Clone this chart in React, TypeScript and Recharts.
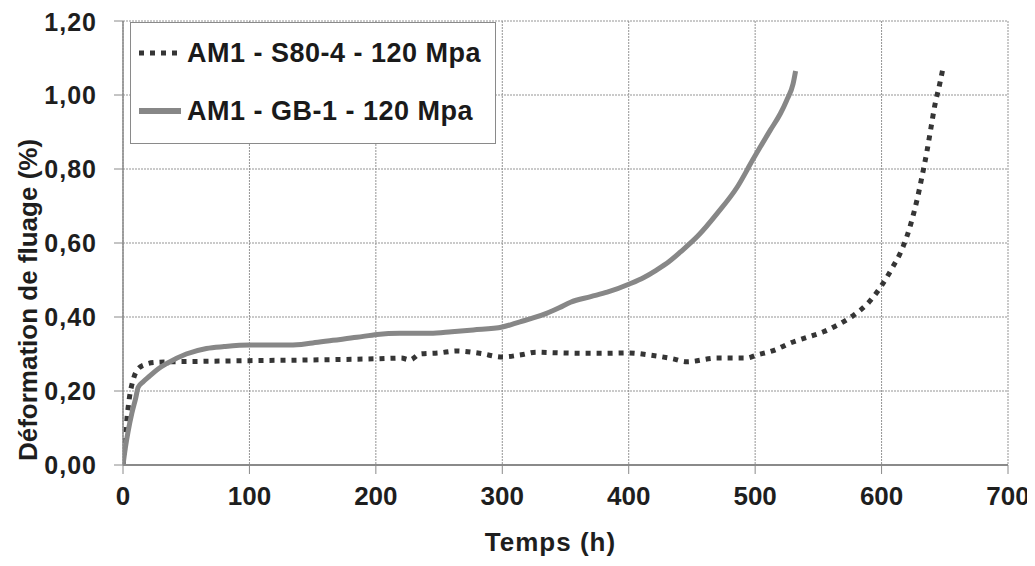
import React from 'react';
import {
  LineChart,
  Line,
  XAxis,
  YAxis,
  CartesianGrid,
  Label
} from 'recharts';

// S80-4 (dotted) — time in hours, creep strain in %
const s80Time = [0, 1.5, 3, 5, 8, 12, 18, 25, 40, 60, 100, 150, 200, 220, 227, 235, 250, 264, 282, 300, 315, 327, 345, 362, 380, 399, 417, 435, 446, 470, 493, 501, 515, 528, 541, 554, 566, 578, 590, 599, 608, 617, 623, 628, 632, 636, 639, 642, 646, 649];
const s80Strain = [0, 0.05, 0.12, 0.18, 0.23, 0.26, 0.272, 0.277, 0.279, 0.28, 0.282, 0.284, 0.287, 0.289, 0.284, 0.3, 0.303, 0.308, 0.302, 0.292, 0.298, 0.305, 0.303, 0.302, 0.302, 0.303, 0.297, 0.287, 0.279, 0.289, 0.289, 0.297, 0.31, 0.33, 0.345, 0.36, 0.38, 0.405, 0.44, 0.48, 0.53, 0.59, 0.65, 0.716, 0.78, 0.85, 0.91, 0.97, 1.03, 1.08];

// GB-1 (solid)
const gbTime = [0, 2, 4, 7, 10, 12, 16, 21, 28, 35, 50, 66, 80, 100, 132, 150, 166, 185, 201, 219, 243, 260, 277, 300, 314, 325, 335, 345, 354, 370, 383, 401, 412, 422, 432, 441, 455, 470, 486, 498, 512, 520, 525, 530, 532];
const gbStrain = [0, 0.05, 0.09, 0.14, 0.18, 0.21, 0.225, 0.24, 0.26, 0.275, 0.3, 0.315, 0.32, 0.324, 0.324, 0.33, 0.337, 0.345, 0.353, 0.356, 0.356, 0.36, 0.365, 0.373, 0.387, 0.398, 0.41, 0.425, 0.44, 0.455, 0.467, 0.49, 0.507, 0.527, 0.55, 0.576, 0.62, 0.68, 0.752, 0.824, 0.905, 0.95, 0.986, 1.03, 1.065];

const xTicks = [0, 100, 200, 300, 400, 500, 600, 700];
const yTicks = [0, 0.2, 0.4, 0.6, 0.8, 1.0, 1.2];

const seriesNames = ['AM1 - S80-4 - 120 Mpa', 'AM1 - GB-1 - 120 Mpa'];

const s80Data = s80Time.map((t, i) => ({ t, v: s80Strain[i] }));
const gbData = gbTime.map((t, i) => ({ t, v: gbStrain[i] }));

const FONT = '"Liberation Sans", Arial, sans-serif';
const DOT_COLOR = '#353535';
const SOLID_COLOR = '#878787';

// legend drawn as an overlay so it doesn't steal room from the plot
const LegendBox = () => (
  <div
    style={{
      position: 'absolute',
      left: 122,
      top: 14,
      border: '1.5px solid #8a8a8a',
      background: '#fff',
      padding: '8px 8px 10px 8px',
      fontFamily: FONT,
      fontWeight: 'bold',
      fontSize: 27,
      letterSpacing: 0.5,
      color: '#1a1a1a',
      width: 348
    }}
  >
    {seriesNames.map((name, i) => (
      <div key={name} style={{ display: 'flex', alignItems: 'center', height: 44, marginTop: i === 0 ? 0 : 14 }}>
        <svg width={44} height={10} style={{ marginRight: 4 }}>
          <line
            x1={0}
            y1={5}
            x2={42}
            y2={5}
            stroke={i === 0 ? DOT_COLOR : SOLID_COLOR}
            strokeWidth={i === 0 ? 5 : 6}
            strokeDasharray={i === 0 ? '5 6' : undefined}
          />
        </svg>
        <span>{name}</span>
      </div>
    ))}
  </div>
);

export default function App() {
  return (
    <div style={{ position: 'relative', width: 1027, height: 558, background: '#fff' }}>
      <LineChart
        width={1027}
        height={558}
        margin={{ top: 13, right: 27, left: 35, bottom: 41 }}
      >
        <CartesianGrid stroke="#959595" strokeDasharray="2 1" strokeWidth={1} />
        <XAxis
          type="number"
          dataKey="t"
          domain={[0, 700]}
          ticks={xTicks}
          height={60}
          allowDataOverflow
          axisLine={{ stroke: '#8a8a8a', strokeWidth: 2 }}
          tickLine={{ stroke: '#8a8a8a', strokeWidth: 1 }}
          tickSize={9}
          tickMargin={13}
          tick={{ fontFamily: FONT, fontWeight: 'bold', fontSize: 26, fill: '#1e1e1e' }}
        >
          <Label
            value="Temps (h)"
            position="bottom"
            offset={8}
            dx={-15}
            style={{ fontFamily: FONT, fontWeight: 'bold', fontSize: 26, fill: '#1e1e1e', letterSpacing: 1 }}
          />
        </XAxis>
        <YAxis
          type="number"
          dataKey="v"
          domain={[0, 1.2]}
          ticks={yTicks}
          width={80}
          axisLine={{ stroke: '#8a8a8a', strokeWidth: 1.5 }}
          tickLine={{ stroke: '#8a8a8a', strokeWidth: 1 }}
          tickSize={9}
          tickMargin={17}
          tickFormatter={(v: number) => v.toFixed(2).replace('.', ',')}
          tick={{ fontFamily: FONT, fontWeight: 'bold', fontSize: 25, fill: '#1e1e1e', letterSpacing: 1 }}
        >
          <Label
            value="Déformation de fluage (%)"
            angle={-90}
            position="insideLeft"
            offset={-15}
            dy={57}
            style={{ textAnchor: 'middle', fontFamily: FONT, fontWeight: 'bold', fontSize: 26, fill: '#1e1e1e' }}
          />
        </YAxis>
        <Line
          data={s80Data}
          dataKey="v"
          name={seriesNames[0]}
          type="monotone"
          stroke={DOT_COLOR}
          strokeWidth={5}
          strokeDasharray="5 6"
          dot={false}
          isAnimationActive={false}
        />
        <Line
          data={gbData}
          dataKey="v"
          name={seriesNames[1]}
          type="monotone"
          stroke={SOLID_COLOR}
          strokeWidth={5}
          dot={false}
          isAnimationActive={false}
        />
      </LineChart>
      <LegendBox />
    </div>
  );
}
